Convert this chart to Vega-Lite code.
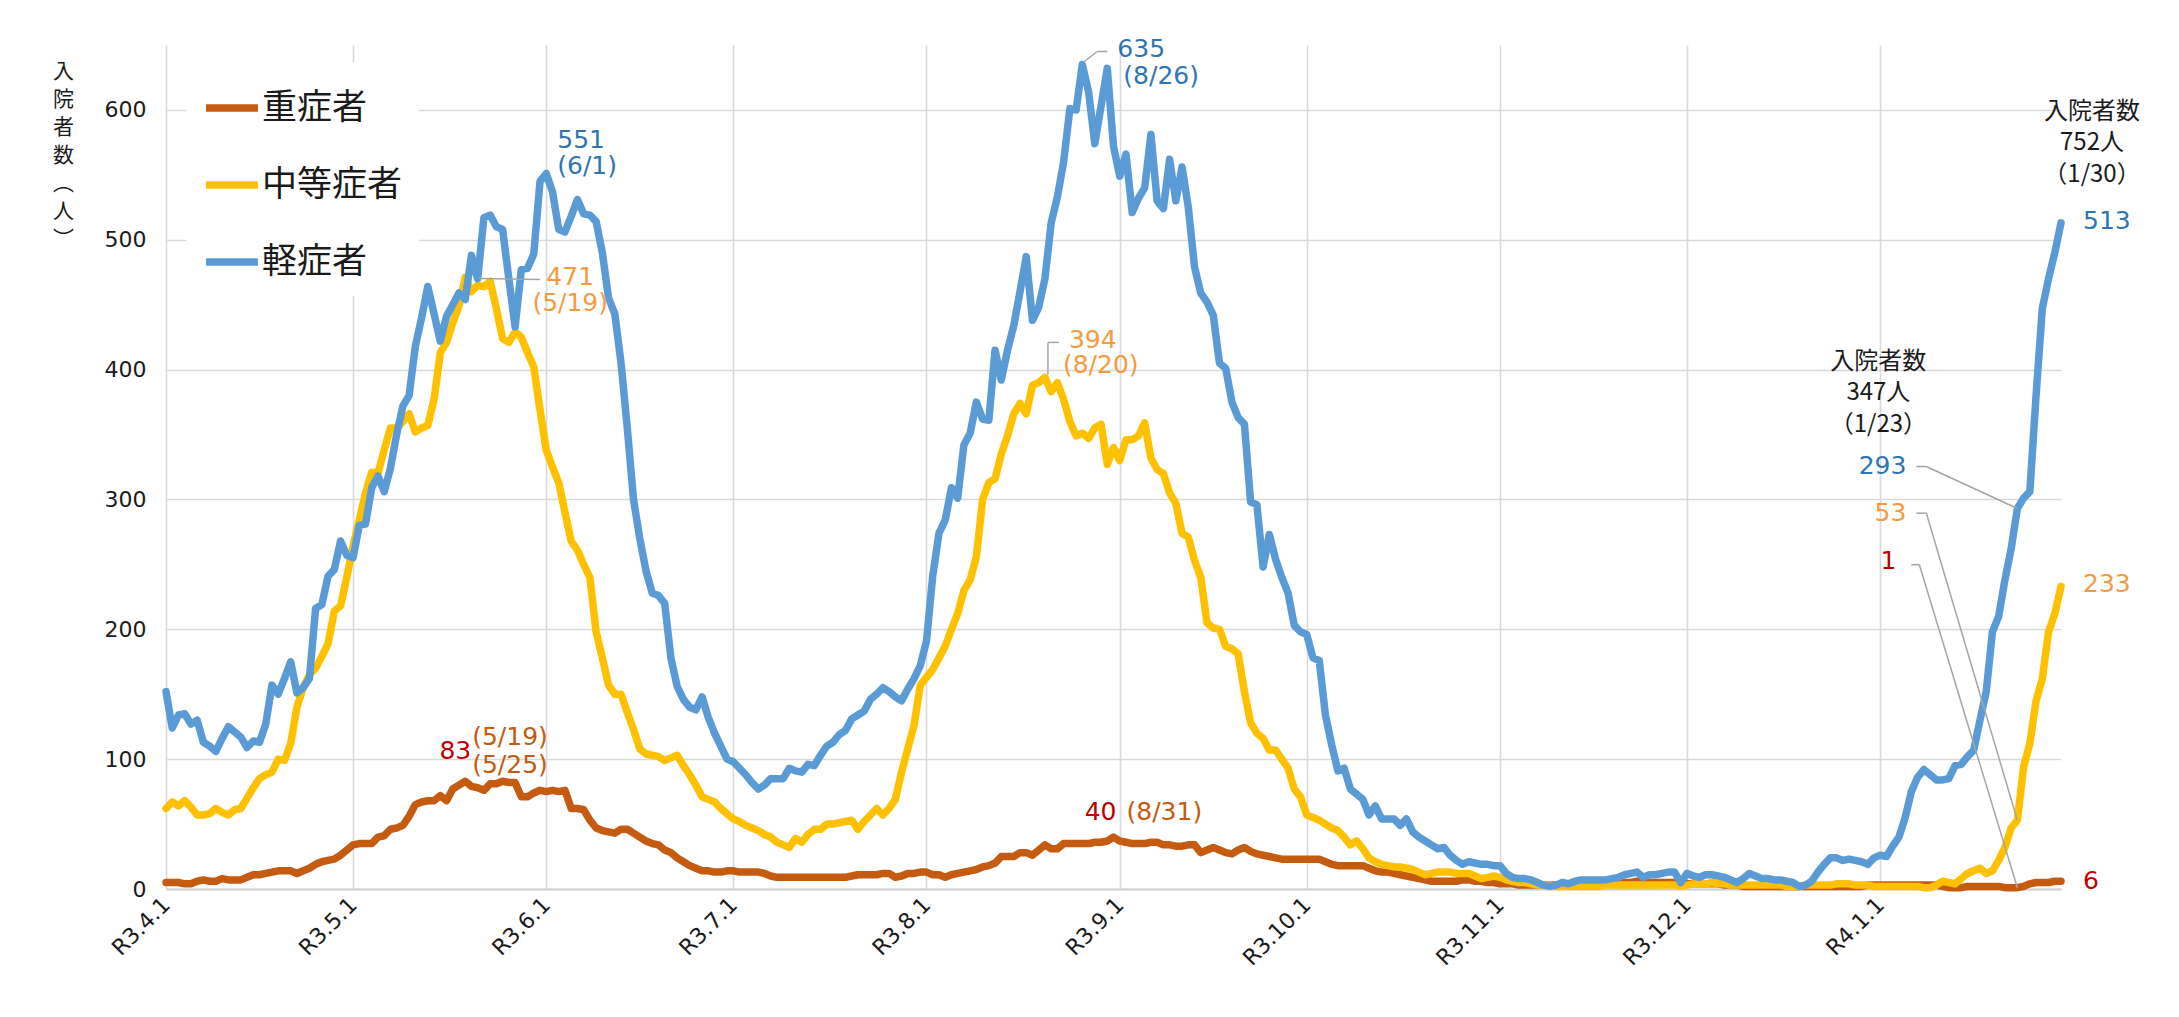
{
 "$schema": "https://vega.github.io/schema/vega-lite/v6.json",
 "autosize": {"type": "none"},
 "width": 1895,
 "height": 844,
 "padding": {"left": 166, "top": 45, "right": 118, "bottom": 128},
 "background": "white",
 "config": {
  "view": {"stroke": null},
  "font": "Noto Sans CJK JP",
  "text": {"font": "DejaVu Sans", "fontSize": 25, "baseline": "middle", "lineBreak": "\n"}
 },
 "datasets": {
  "series": [
   {"d":"2021-04-01","重症者":5,"中等症者":62,"軽症者":152},
   {"d":"2021-04-02","重症者":5,"中等症者":67,"軽症者":124},
   {"d":"2021-04-03","重症者":5,"中等症者":64,"軽症者":134},
   {"d":"2021-04-04","重症者":4,"中等症者":68,"軽症者":135},
   {"d":"2021-04-05","重症者":4,"中等症者":63,"軽症者":127},
   {"d":"2021-04-06","重症者":6,"中等症者":57,"軽症者":130},
   {"d":"2021-04-07","重症者":7,"中等症者":57,"軽症者":113},
   {"d":"2021-04-08","重症者":6,"中等症者":58,"軽症者":110},
   {"d":"2021-04-09","重症者":6,"中等症者":62,"軽症者":106},
   {"d":"2021-04-10","重症者":8,"中等症者":59,"軽症者":116},
   {"d":"2021-04-11","重症者":7,"中等症者":57,"軽症者":125},
   {"d":"2021-04-12","重症者":7,"中等症者":61,"軽症者":121},
   {"d":"2021-04-13","重症者":7,"中等症者":62,"軽症者":117},
   {"d":"2021-04-14","重症者":9,"中等症者":70,"軽症者":109},
   {"d":"2021-04-15","重症者":11,"中等症者":78,"軽症者":114},
   {"d":"2021-04-16","重症者":11,"中等症者":85,"軽症者":113},
   {"d":"2021-04-17","重症者":12,"中等症者":88,"軽症者":127},
   {"d":"2021-04-18","重症者":13,"中等症者":90,"軽症者":157},
   {"d":"2021-04-19","重症者":14,"中等症者":100,"軽症者":150},
   {"d":"2021-04-20","重症者":14,"中等症者":99,"軽症者":162},
   {"d":"2021-04-21","重症者":14,"中等症者":112,"軽症者":175},
   {"d":"2021-04-22","重症者":12,"中等症者":140,"軽症者":151},
   {"d":"2021-04-23","重症者":14,"中等症者":155,"軽症者":155},
   {"d":"2021-04-24","重症者":16,"中等症者":165,"軽症者":162},
   {"d":"2021-04-25","重症者":19,"中等症者":170,"軽症者":216},
   {"d":"2021-04-26","重症者":21,"中等症者":179,"軽症者":219},
   {"d":"2021-04-27","重症者":22,"中等症者":189,"軽症者":241},
   {"d":"2021-04-28","重症者":23,"中等症者":214,"軽症者":246},
   {"d":"2021-04-29","重症者":26,"中等症者":218,"軽症者":268},
   {"d":"2021-04-30","重症者":30,"中等症者":240,"軽症者":257},
   {"d":"2021-05-01","重症者":34,"中等症者":264,"軽症者":255},
   {"d":"2021-05-02","重症者":35,"中等症者":284,"軽症者":280},
   {"d":"2021-05-03","重症者":35,"中等症者":305,"軽症者":281},
   {"d":"2021-05-04","重症者":35,"中等症者":321,"軽症者":309},
   {"d":"2021-05-05","重症者":40,"中等症者":320,"軽症者":318},
   {"d":"2021-05-06","重症者":41,"中等症者":338,"軽症者":306},
   {"d":"2021-05-07","重症者":46,"中等症者":355,"軽症者":324},
   {"d":"2021-05-08","重症者":47,"中等症者":355,"軽症者":350},
   {"d":"2021-05-09","重症者":49,"中等症者":360,"軽症者":372},
   {"d":"2021-05-10","重症者":56,"中等症者":366,"軽症者":380},
   {"d":"2021-05-11","重症者":65,"中等症者":352,"軽症者":418},
   {"d":"2021-05-12","重症者":67,"中等症者":355,"軽症者":440},
   {"d":"2021-05-13","重症者":68,"中等症者":357,"軽症者":464},
   {"d":"2021-05-14","重症者":68,"中等症者":377,"軽症者":443},
   {"d":"2021-05-15","重症者":72,"中等症者":413,"軽症者":422},
   {"d":"2021-05-16","重症者":68,"中等症者":421,"軽症者":441},
   {"d":"2021-05-17","重症者":77,"中等症者":436,"軽症者":450},
   {"d":"2021-05-18","重症者":80,"中等症者":449,"軽症者":459},
   {"d":"2021-05-19","重症者":83,"中等症者":471,"軽症者":454},
   {"d":"2021-05-20","重症者":79,"中等症者":460,"軽症者":488},
   {"d":"2021-05-21","重症者":78,"中等症者":465,"軽症者":470},
   {"d":"2021-05-22","重症者":76,"中等症者":464,"軽症者":517},
   {"d":"2021-05-23","重症者":81,"中等症者":468,"軽症者":519},
   {"d":"2021-05-24","重症者":81,"中等症者":447,"軽症者":510},
   {"d":"2021-05-25","重症者":83,"中等症者":424,"軽症者":508},
   {"d":"2021-05-26","重症者":82,"中等症者":421,"軽症者":470},
   {"d":"2021-05-27","重症者":82,"中等症者":429,"軽症者":433},
   {"d":"2021-05-28","重症者":71,"中等症者":425,"軽症者":477},
   {"d":"2021-05-29","重症者":71,"中等症者":413,"軽症者":478},
   {"d":"2021-05-30","重症者":74,"中等症者":402,"軽症者":489},
   {"d":"2021-05-31","重症者":76,"中等症者":369,"軽症者":545},
   {"d":"2021-06-01","重症者":75,"中等症者":338,"軽症者":551},
   {"d":"2021-06-02","重症者":76,"中等症者":325,"軽症者":537},
   {"d":"2021-06-03","重症者":75,"中等症者":313,"軽症者":508},
   {"d":"2021-06-04","重症者":76,"中等症者":290,"軽症者":506},
   {"d":"2021-06-05","重症者":62,"中等症者":268,"軽症者":518},
   {"d":"2021-06-06","重症者":62,"中等症者":261,"軽症者":531},
   {"d":"2021-06-07","重症者":61,"中等症者":250,"軽症者":520},
   {"d":"2021-06-08","重症者":53,"中等症者":240,"軽症者":519},
   {"d":"2021-06-09","重症者":47,"中等症者":198,"軽症者":514},
   {"d":"2021-06-10","重症者":45,"中等症者":178,"軽症者":490},
   {"d":"2021-06-11","重症者":44,"中等症者":157,"軽症者":455},
   {"d":"2021-06-12","重症者":43,"中等症者":150,"軽症者":443},
   {"d":"2021-06-13","重症者":46,"中等症者":150,"軽症者":405},
   {"d":"2021-06-14","重症者":46,"中等症者":136,"軽症者":355},
   {"d":"2021-06-15","重症者":43,"中等症者":123,"軽症者":300},
   {"d":"2021-06-16","重症者":40,"中等症者":108,"軽症者":270},
   {"d":"2021-06-17","重症者":37,"中等症者":104,"軽症者":245},
   {"d":"2021-06-18","重症者":35,"中等症者":103,"軽症者":228},
   {"d":"2021-06-19","重症者":34,"中等症者":102,"軽症者":226},
   {"d":"2021-06-20","重症者":30,"中等症者":99,"軽症者":220},
   {"d":"2021-06-21","重症者":28,"中等症者":101,"軽症者":178},
   {"d":"2021-06-22","重症者":24,"中等症者":103,"軽症者":156},
   {"d":"2021-06-23","重症者":21,"中等症者":95,"軽症者":146},
   {"d":"2021-06-24","重症者":18,"中等症者":88,"軽症者":140},
   {"d":"2021-06-25","重症者":16,"中等症者":80,"軽症者":138},
   {"d":"2021-06-26","重症者":14,"中等症者":71,"軽症者":148},
   {"d":"2021-06-27","重症者":14,"中等症者":69,"軽症者":132},
   {"d":"2021-06-28","重症者":13,"中等症者":67,"軽症者":120},
   {"d":"2021-06-29","重症者":13,"中等症者":62,"軽症者":110},
   {"d":"2021-06-30","重症者":14,"中等症者":58,"軽症者":100},
   {"d":"2021-07-01","重症者":14,"中等症者":54,"軽症者":98},
   {"d":"2021-07-02","重症者":13,"中等症者":52,"軽症者":93},
   {"d":"2021-07-03","重症者":13,"中等症者":49,"軽症者":88},
   {"d":"2021-07-04","重症者":13,"中等症者":47,"軽症者":82},
   {"d":"2021-07-05","重症者":13,"中等症者":45,"軽症者":77},
   {"d":"2021-07-06","重症者":12,"中等症者":42,"軽症者":80},
   {"d":"2021-07-07","重症者":10,"中等症者":40,"軽症者":85},
   {"d":"2021-07-08","重症者":9,"中等症者":36,"軽症者":85},
   {"d":"2021-07-09","重症者":9,"中等症者":34,"軽症者":85},
   {"d":"2021-07-10","重症者":9,"中等症者":32,"軽症者":93},
   {"d":"2021-07-11","重症者":9,"中等症者":39,"軽症者":91},
   {"d":"2021-07-12","重症者":9,"中等症者":36,"軽症者":90},
   {"d":"2021-07-13","重症者":9,"中等症者":42,"軽症者":96},
   {"d":"2021-07-14","重症者":9,"中等症者":46,"軽症者":95},
   {"d":"2021-07-15","重症者":9,"中等症者":46,"軽症者":103},
   {"d":"2021-07-16","重症者":9,"中等症者":50,"軽症者":110},
   {"d":"2021-07-17","重症者":9,"中等症者":50,"軽症者":113},
   {"d":"2021-07-18","重症者":9,"中等症者":51,"軽症者":119},
   {"d":"2021-07-19","重症者":9,"中等症者":52,"軽症者":122},
   {"d":"2021-07-20","重症者":10,"中等症者":53,"軽症者":131},
   {"d":"2021-07-21","重症者":11,"中等症者":46,"軽症者":134},
   {"d":"2021-07-22","重症者":11,"中等症者":52,"軽症者":137},
   {"d":"2021-07-23","重症者":11,"中等症者":57,"軽症者":146},
   {"d":"2021-07-24","重症者":11,"中等症者":62,"軽症者":150},
   {"d":"2021-07-25","重症者":12,"中等症者":57,"軽症者":155},
   {"d":"2021-07-26","重症者":12,"中等症者":62,"軽症者":152},
   {"d":"2021-07-27","重症者":9,"中等症者":69,"軽症者":148},
   {"d":"2021-07-28","重症者":10,"中等症者":90,"軽症者":145},
   {"d":"2021-07-29","重症者":12,"中等症者":108,"軽症者":154},
   {"d":"2021-07-30","重症者":12,"中等症者":126,"軽症者":162},
   {"d":"2021-07-31","重症者":13,"中等症者":157,"軽症者":172},
   {"d":"2021-08-01","重症者":13,"中等症者":163,"軽症者":191},
   {"d":"2021-08-02","重症者":11,"中等症者":169,"軽症者":241},
   {"d":"2021-08-03","重症者":11,"中等症者":178,"軽症者":274},
   {"d":"2021-08-04","重症者":9,"中等症者":187,"軽症者":284},
   {"d":"2021-08-05","重症者":11,"中等症者":200,"軽症者":309},
   {"d":"2021-08-06","重症者":12,"中等症者":212,"軽症者":301},
   {"d":"2021-08-07","重症者":13,"中等症者":230,"軽症者":342},
   {"d":"2021-08-08","重症者":14,"中等症者":238,"軽症者":351},
   {"d":"2021-08-09","重症者":15,"中等症者":256,"軽症者":375},
   {"d":"2021-08-10","重症者":17,"中等症者":300,"軽症者":362},
   {"d":"2021-08-11","重症者":18,"中等症者":313,"軽症者":361},
   {"d":"2021-08-12","重症者":20,"中等症者":316,"軽症者":415},
   {"d":"2021-08-13","重症者":25,"中等症者":335,"軽症者":392},
   {"d":"2021-08-14","重症者":25,"中等症者":349,"軽症者":415},
   {"d":"2021-08-15","重症者":25,"中等症者":366,"軽症者":434},
   {"d":"2021-08-16","重症者":28,"中等症者":374,"軽症者":460},
   {"d":"2021-08-17","重症者":28,"中等症者":366,"軽症者":487},
   {"d":"2021-08-18","重症者":26,"中等症者":388,"軽症者":438},
   {"d":"2021-08-19","重症者":30,"中等症者":390,"軽症者":448},
   {"d":"2021-08-20","重症者":34,"中等症者":394,"軽症者":470},
   {"d":"2021-08-21","重症者":31,"中等症者":383,"軽症者":513},
   {"d":"2021-08-22","重症者":31,"中等症者":390,"軽症者":533},
   {"d":"2021-08-23","重症者":35,"中等症者":377,"軽症者":560},
   {"d":"2021-08-24","重症者":35,"中等症者":360,"軽症者":601},
   {"d":"2021-08-25","重症者":35,"中等症者":349,"軽症者":600},
   {"d":"2021-08-26","重症者":35,"中等症者":351,"軽症者":635},
   {"d":"2021-08-27","重症者":35,"中等症者":347,"軽症者":614},
   {"d":"2021-08-28","重症者":36,"中等症者":355,"軽症者":574},
   {"d":"2021-08-29","重症者":36,"中等症者":358,"軽症者":603},
   {"d":"2021-08-30","重症者":37,"中等症者":327,"軽症者":632},
   {"d":"2021-08-31","重症者":40,"中等症者":340,"軽症者":572},
   {"d":"2021-09-01","重症者":37,"中等症者":330,"軽症者":549},
   {"d":"2021-09-02","重症者":36,"中等症者":346,"軽症者":566},
   {"d":"2021-09-03","重症者":35,"中等症者":346,"軽症者":521},
   {"d":"2021-09-04","重症者":35,"中等症者":349,"軽症者":532},
   {"d":"2021-09-05","重症者":35,"中等症者":359,"軽症者":540},
   {"d":"2021-09-06","重症者":36,"中等症者":332,"軽症者":581},
   {"d":"2021-09-07","重症者":36,"中等症者":323,"軽症者":530},
   {"d":"2021-09-08","重症者":34,"中等症者":320,"軽症者":524},
   {"d":"2021-09-09","重症者":34,"中等症者":305,"軽症者":562},
   {"d":"2021-09-10","重症者":33,"中等症者":297,"軽症者":530},
   {"d":"2021-09-11","重症者":33,"中等症者":274,"軽症者":556},
   {"d":"2021-09-12","重症者":34,"中等症者":271,"軽症者":525},
   {"d":"2021-09-13","重症者":34,"中等症者":253,"軽症者":479},
   {"d":"2021-09-14","重症者":28,"中等症者":240,"軽症者":459},
   {"d":"2021-09-15","重症者":30,"中等症者":205,"軽症者":452},
   {"d":"2021-09-16","重症者":32,"中等症者":201,"軽症者":442},
   {"d":"2021-09-17","重症者":30,"中等症者":200,"軽症者":405},
   {"d":"2021-09-18","重症者":28,"中等症者":187,"軽症者":401},
   {"d":"2021-09-19","重症者":27,"中等症者":185,"軽症者":375},
   {"d":"2021-09-20","重症者":30,"中等症者":181,"軽症者":363},
   {"d":"2021-09-21","重症者":32,"中等症者":152,"軽症者":358},
   {"d":"2021-09-22","重症者":29,"中等症者":128,"軽症者":298},
   {"d":"2021-09-23","重症者":27,"中等症者":120,"軽症者":296},
   {"d":"2021-09-24","重症者":26,"中等症者":116,"軽症者":248},
   {"d":"2021-09-25","重症者":25,"中等症者":107,"軽症者":273},
   {"d":"2021-09-26","重症者":24,"中等症者":107,"軽症者":254},
   {"d":"2021-09-27","重症者":23,"中等症者":100,"軽症者":240},
   {"d":"2021-09-28","重症者":23,"中等症者":93,"軽症者":228},
   {"d":"2021-09-29","重症者":23,"中等症者":77,"軽症者":203},
   {"d":"2021-09-30","重症者":23,"中等症者":71,"軽症者":198},
   {"d":"2021-10-01","重症者":23,"中等症者":57,"軽症者":196},
   {"d":"2021-10-02","重症者":23,"中等症者":55,"軽症者":178},
   {"d":"2021-10-03","重症者":23,"中等症者":53,"軽症者":176},
   {"d":"2021-10-04","重症者":21,"中等症者":50,"軽症者":134},
   {"d":"2021-10-05","重症者":19,"中等症者":47,"軽症者":111},
   {"d":"2021-10-06","重症者":18,"中等症者":45,"軽症者":91},
   {"d":"2021-10-07","重症者":18,"中等症者":40,"軽症者":93},
   {"d":"2021-10-08","重症者":18,"中等症者":34,"軽症者":77},
   {"d":"2021-10-09","重症者":18,"中等症者":37,"軽症者":73},
   {"d":"2021-10-10","重症者":18,"中等症者":31,"軽症者":69},
   {"d":"2021-10-11","重症者":16,"中等症者":24,"軽症者":57},
   {"d":"2021-10-12","重症者":14,"中等症者":21,"軽症者":64},
   {"d":"2021-10-13","重症者":13,"中等症者":19,"軽症者":54},
   {"d":"2021-10-14","重症者":13,"中等症者":18,"軽症者":54},
   {"d":"2021-10-15","重症者":12,"中等症者":17,"軽症者":54},
   {"d":"2021-10-16","重症者":11,"中等症者":17,"軽症者":49},
   {"d":"2021-10-17","重症者":10,"中等症者":16,"軽症者":54},
   {"d":"2021-10-18","重症者":9,"中等症者":15,"軽症者":44},
   {"d":"2021-10-19","重症者":8,"中等症者":13,"軽症者":40},
   {"d":"2021-10-20","重症者":7,"中等症者":11,"軽症者":37},
   {"d":"2021-10-21","重症者":6,"中等症者":12,"軽症者":34},
   {"d":"2021-10-22","重症者":6,"中等症者":13,"軽症者":31},
   {"d":"2021-10-23","重症者":6,"中等症者":13,"軽症者":32},
   {"d":"2021-10-24","重症者":6,"中等症者":13,"軽症者":26},
   {"d":"2021-10-25","重症者":6,"中等症者":12,"軽症者":22},
   {"d":"2021-10-26","重症者":7,"中等症者":12,"軽症者":19},
   {"d":"2021-10-27","重症者":7,"中等症者":12,"軽症者":21},
   {"d":"2021-10-28","重症者":6,"中等症者":10,"軽症者":20},
   {"d":"2021-10-29","重症者":6,"中等症者":8,"軽症者":19},
   {"d":"2021-10-30","重症者":5,"中等症者":9,"軽症者":19},
   {"d":"2021-10-31","重症者":5,"中等症者":10,"軽症者":18},
   {"d":"2021-11-01","重症者":4,"中等症者":9,"軽症者":18},
   {"d":"2021-11-02","重症者":4,"中等症者":7,"軽症者":12},
   {"d":"2021-11-03","重症者":4,"中等症者":6,"軽症者":9},
   {"d":"2021-11-04","重症者":3,"中等症者":5,"軽症者":8},
   {"d":"2021-11-05","重症者":3,"中等症者":5,"軽症者":8},
   {"d":"2021-11-06","重症者":3,"中等症者":4,"軽症者":7},
   {"d":"2021-11-07","重症者":3,"中等症者":3,"軽症者":5},
   {"d":"2021-11-08","重症者":3,"中等症者":3,"軽症者":3},
   {"d":"2021-11-09","重症者":3,"中等症者":3,"軽症者":2},
   {"d":"2021-11-10","重症者":3,"中等症者":2,"軽症者":3},
   {"d":"2021-11-11","重症者":4,"中等症者":2,"軽症者":5},
   {"d":"2021-11-12","重症者":4,"中等症者":2,"軽症者":4},
   {"d":"2021-11-13","重症者":4,"中等症者":2,"軽症者":6},
   {"d":"2021-11-14","重症者":4,"中等症者":2,"軽症者":7},
   {"d":"2021-11-15","重症者":4,"中等症者":2,"軽症者":7},
   {"d":"2021-11-16","重症者":4,"中等症者":2,"軽症者":7},
   {"d":"2021-11-17","重症者":4,"中等症者":2,"軽症者":7},
   {"d":"2021-11-18","重症者":5,"中等症者":3,"軽症者":7},
   {"d":"2021-11-19","重症者":5,"中等症者":3,"軽症者":8},
   {"d":"2021-11-20","重症者":5,"中等症者":3,"軽症者":9},
   {"d":"2021-11-21","重症者":5,"中等症者":3,"軽症者":11},
   {"d":"2021-11-22","重症者":5,"中等症者":3,"軽症者":12},
   {"d":"2021-11-23","重症者":6,"中等症者":3,"軽症者":13},
   {"d":"2021-11-24","重症者":6,"中等症者":3,"軽症者":9},
   {"d":"2021-11-25","重症者":5,"中等症者":3,"軽症者":11},
   {"d":"2021-11-26","重症者":5,"中等症者":3,"軽症者":11},
   {"d":"2021-11-27","重症者":5,"中等症者":3,"軽症者":12},
   {"d":"2021-11-28","重症者":5,"中等症者":3,"軽症者":13},
   {"d":"2021-11-29","重症者":5,"中等症者":3,"軽症者":13},
   {"d":"2021-11-30","重症者":5,"中等症者":2,"軽症者":5},
   {"d":"2021-12-01","重症者":4,"中等症者":3,"軽症者":12},
   {"d":"2021-12-02","重症者":4,"中等症者":4,"軽症者":10},
   {"d":"2021-12-03","重症者":4,"中等症者":4,"軽症者":9},
   {"d":"2021-12-04","重症者":4,"中等症者":4,"軽症者":11},
   {"d":"2021-12-05","重症者":4,"中等症者":5,"軽症者":11},
   {"d":"2021-12-06","重症者":4,"中等症者":4,"軽症者":10},
   {"d":"2021-12-07","重症者":3,"中等症者":4,"軽症者":9},
   {"d":"2021-12-08","重症者":3,"中等症者":3,"軽症者":7},
   {"d":"2021-12-09","重症者":3,"中等症者":3,"軽症者":5},
   {"d":"2021-12-10","重症者":2,"中等症者":3,"軽症者":8},
   {"d":"2021-12-11","重症者":2,"中等症者":3,"軽症者":12},
   {"d":"2021-12-12","重症者":2,"中等症者":3,"軽症者":10},
   {"d":"2021-12-13","重症者":2,"中等症者":3,"軽症者":8},
   {"d":"2021-12-14","重症者":2,"中等症者":3,"軽症者":8},
   {"d":"2021-12-15","重症者":2,"中等症者":3,"軽症者":7},
   {"d":"2021-12-16","重症者":2,"中等症者":3,"軽症者":7},
   {"d":"2021-12-17","重症者":2,"中等症者":2,"軽症者":6},
   {"d":"2021-12-18","重症者":2,"中等症者":2,"軽症者":5},
   {"d":"2021-12-19","重症者":2,"中等症者":2,"軽症者":2},
   {"d":"2021-12-20","重症者":2,"中等症者":3,"軽症者":3},
   {"d":"2021-12-21","重症者":2,"中等症者":3,"軽症者":6},
   {"d":"2021-12-22","重症者":2,"中等症者":3,"軽症者":13},
   {"d":"2021-12-23","重症者":2,"中等症者":3,"軽症者":19},
   {"d":"2021-12-24","重症者":2,"中等症者":3,"軽症者":24},
   {"d":"2021-12-25","重症者":2,"中等症者":4,"軽症者":24},
   {"d":"2021-12-26","重症者":2,"中等症者":4,"軽症者":22},
   {"d":"2021-12-27","重症者":2,"中等症者":4,"軽症者":23},
   {"d":"2021-12-28","重症者":2,"中等症者":3,"軽症者":22},
   {"d":"2021-12-29","重症者":2,"中等症者":3,"軽症者":21},
   {"d":"2021-12-30","重症者":3,"中等症者":3,"軽症者":19},
   {"d":"2021-12-31","重症者":3,"中等症者":2,"軽症者":24},
   {"d":"2022-01-01","重症者":3,"中等症者":2,"軽症者":26},
   {"d":"2022-01-02","重症者":3,"中等症者":2,"軽症者":25},
   {"d":"2022-01-03","重症者":3,"中等症者":2,"軽症者":33},
   {"d":"2022-01-04","重症者":3,"中等症者":2,"軽症者":40},
   {"d":"2022-01-05","重症者":3,"中等症者":2,"軽症者":55},
   {"d":"2022-01-06","重症者":3,"中等症者":2,"軽症者":75},
   {"d":"2022-01-07","重症者":3,"中等症者":2,"軽症者":86},
   {"d":"2022-01-08","重症者":3,"中等症者":1,"軽症者":92},
   {"d":"2022-01-09","重症者":3,"中等症者":1,"軽症者":88},
   {"d":"2022-01-10","重症者":3,"中等症者":3,"軽症者":84},
   {"d":"2022-01-11","重症者":2,"中等症者":6,"軽症者":84},
   {"d":"2022-01-12","重症者":1,"中等症者":5,"軽症者":85},
   {"d":"2022-01-13","重症者":1,"中等症者":4,"軽症者":95},
   {"d":"2022-01-14","重症者":1,"中等症者":8,"軽症者":96},
   {"d":"2022-01-15","重症者":2,"中等症者":12,"軽症者":102},
   {"d":"2022-01-16","重症者":2,"中等症者":14,"軽症者":107},
   {"d":"2022-01-17","重症者":2,"中等症者":16,"軽症者":130},
   {"d":"2022-01-18","重症者":2,"中等症者":12,"軽症者":152},
   {"d":"2022-01-19","重症者":2,"中等症者":14,"軽症者":198},
   {"d":"2022-01-20","重症者":2,"中等症者":22,"軽症者":210},
   {"d":"2022-01-21","重症者":1,"中等症者":32,"軽症者":238},
   {"d":"2022-01-22","重症者":1,"中等症者":47,"軽症者":262},
   {"d":"2022-01-23","重症者":1,"中等症者":53,"軽症者":293},
   {"d":"2022-01-24","重症者":2,"中等症者":94,"軽症者":301},
   {"d":"2022-01-25","重症者":4,"中等症者":112,"軽症者":306},
   {"d":"2022-01-26","重症者":5,"中等症者":145,"軽症者":380},
   {"d":"2022-01-27","重症者":5,"中等症者":162,"軽症者":447},
   {"d":"2022-01-28","重症者":5,"中等症者":198,"軽症者":470},
   {"d":"2022-01-29","重症者":6,"中等症者":212,"軽症者":490},
   {"d":"2022-01-30","重症者":6,"中等症者":233,"軽症者":513}
  ]
 },
 "encoding": {
  "x": {
   "field": "d", "type": "temporal",
   "scale": {"type": "utc", "domain": [{"year": 2021, "month": 4, "date": 1, "utc": true}, {"year": 2022, "month": 1, "date": 30, "utc": true}]},
   "axis": {
    "title": null,
    "values": [
     {"year": 2021, "month": 4, "date": 1, "utc": true},
     {"year": 2021, "month": 5, "date": 1, "utc": true},
     {"year": 2021, "month": 6, "date": 1, "utc": true},
     {"year": 2021, "month": 7, "date": 1, "utc": true},
     {"year": 2021, "month": 8, "date": 1, "utc": true},
     {"year": 2021, "month": 9, "date": 1, "utc": true},
     {"year": 2021, "month": 10, "date": 1, "utc": true},
     {"year": 2021, "month": 11, "date": 1, "utc": true},
     {"year": 2021, "month": 12, "date": 1, "utc": true},
     {"year": 2022, "month": 1, "date": 1, "utc": true}
    ],
    "labelExpr": "'R' + (utcyear(datum.value) - 2018) + '.' + (utcmonth(datum.value) + 1) + '.1'",
    "labelAngle": -45, "labelAlign": "right", "labelBaseline": "middle",
    "labelPadding": 12, "labelFont": "DejaVu Sans", "labelFontSize": 22, "labelColor": "#1a1a1a",
    "labelOverlap": false, "labelFlush": false, "labelBound": false,
    "grid": true, "gridColor": "#D9D9D9", "gridWidth": 1.6,
    "ticks": false, "domain": true, "domainColor": "#CFCFCF", "domainWidth": 2
   }
  },
  "y": {
   "field": "v", "type": "quantitative",
   "scale": {"domain": [0, 650], "nice": false, "zero": true},
   "axis": {
    "values": [0, 100, 200, 300, 400, 500, 600],
    "title": ["入", "院", "者", "数", "︵", "人", "︶"],
    "titleAngle": 0, "titleAlign": "center", "titleBaseline": "top",
    "titleX": -103, "titleY": 15, "titleLineHeight": 28,
    "titleFontSize": 21, "titleFontWeight": "normal", "titleColor": "#1a1a1a",
    "grid": true, "gridColor": "#D9D9D9", "gridWidth": 1.6,
    "ticks": false, "domain": false,
    "labelPadding": 20, "labelFont": "DejaVu Sans", "labelFontSize": 22, "labelColor": "#1a1a1a"
   }
  }
 },
 "layer": [
  {
   "data": {"name": "series"},
   "transform": [{"fold": ["重症者", "中等症者", "軽症者"], "as": ["k", "v"]}, {"filter": "datum.k === '重症者'"}],
   "mark": {"type": "line", "strokeWidth": 7.5, "strokeJoin": "round", "strokeCap": "round"},
   "encoding": {
    "color": {
     "field": "k", "type": "nominal",
     "scale": {"domain": ["重症者", "中等症者", "軽症者"], "range": ["#C55A11", "#FFC000", "#5B9BD5"]},
     "legend": {"title": null, "orient": "none", "legendX": 20, "legendY": 17, "fillColor": "white", "padding": 16,
      "symbolType": "stroke", "symbolSize": 2700, "symbolStrokeWidth": 7.5, "labelFontSize": 35, "labelColor": "#1a1a1a",
      "labelOffset": 0, "rowPadding": 29, "labelLimit": 400}
    }
   }
  },
  {
   "data": {"name": "series"},
   "transform": [{"fold": ["重症者", "中等症者", "軽症者"], "as": ["k", "v"]}, {"filter": "datum.k === '中等症者'"}],
   "mark": {"type": "line", "strokeWidth": 7.5, "strokeJoin": "round", "strokeCap": "round"},
   "encoding": {
    "color": {
     "field": "k", "type": "nominal",
     "scale": {"domain": ["重症者", "中等症者", "軽症者"], "range": ["#C55A11", "#FFC000", "#5B9BD5"]},
     "legend": {"title": null, "orient": "none", "legendX": 20, "legendY": 17, "fillColor": "white", "padding": 16,
      "symbolType": "stroke", "symbolSize": 2700, "symbolStrokeWidth": 7.5, "labelFontSize": 35, "labelColor": "#1a1a1a",
      "labelOffset": 0, "rowPadding": 29, "labelLimit": 400}
    }
   }
  },
  {
   "data": {"name": "series"},
   "transform": [{"fold": ["重症者", "中等症者", "軽症者"], "as": ["k", "v"]}, {"filter": "datum.k === '軽症者'"}],
   "mark": {"type": "line", "strokeWidth": 7.5, "strokeJoin": "round", "strokeCap": "round"},
   "encoding": {
    "color": {
     "field": "k", "type": "nominal",
     "scale": {"domain": ["重症者", "中等症者", "軽症者"], "range": ["#C55A11", "#FFC000", "#5B9BD5"]},
     "legend": {"title": null, "orient": "none", "legendX": 20, "legendY": 17, "fillColor": "white", "padding": 16,
      "symbolType": "stroke", "symbolSize": 2700, "symbolStrokeWidth": 7.5, "labelFontSize": 35, "labelColor": "#1a1a1a",
      "labelOffset": 0, "rowPadding": 29, "labelLimit": 400}
    }
   }
  },
  {"data": {"values": [{"d": "2021-05-19", "v": 471}]}, "mark": {"type": "rule", "color": "#A5A5A5", "strokeWidth": 1.5, "xOffset": 14, "yOffset": 1, "x2Offset": 75, "y2Offset": 2}, "encoding": {"x2": {"field": "d"}, "y2": {"field": "v"}}},
  {"data": {"values": [{"d": "2021-08-26", "v": 635}]}, "mark": {"type": "rule", "color": "#A5A5A5", "strokeWidth": 1.5, "xOffset": 2, "yOffset": -3, "x2Offset": 15, "y2Offset": -13}, "encoding": {"x2": {"field": "d"}, "y2": {"field": "v"}}},
  {"data": {"values": [{"d": "2021-08-26", "v": 635}]}, "mark": {"type": "rule", "color": "#A5A5A5", "strokeWidth": 1.5, "xOffset": 15, "yOffset": -13, "x2Offset": 25, "y2Offset": -13}, "encoding": {"x2": {"field": "d"}, "y2": {"field": "v"}}},
  {"data": {"values": [{"d": "2021-08-20", "v": 394}]}, "mark": {"type": "rule", "color": "#A5A5A5", "strokeWidth": 1.5, "xOffset": 3, "yOffset": -3, "x2Offset": 3, "y2Offset": -35}, "encoding": {"x2": {"field": "d"}, "y2": {"field": "v"}}},
  {"data": {"values": [{"d": "2021-08-20", "v": 394}]}, "mark": {"type": "rule", "color": "#A5A5A5", "strokeWidth": 1.5, "xOffset": 3, "yOffset": -35, "x2Offset": 14, "y2Offset": -35}, "encoding": {"x2": {"field": "d"}, "y2": {"field": "v"}}},
  {"data": {"values": [{"d": "2022-01-23", "v": 293}]}, "mark": {"type": "rule", "color": "#A5A5A5", "strokeWidth": 1.5, "xOffset": -101, "yOffset": -42, "x2Offset": -91, "y2Offset": -42}, "encoding": {"x2": {"field": "d"}, "y2": {"field": "v"}}},
  {"data": {"values": [{"d": "2022-01-23", "v": 293}]}, "mark": {"type": "rule", "color": "#A5A5A5", "strokeWidth": 1.5, "xOffset": -91, "yOffset": -42, "x2Offset": 0, "y2Offset": 0}, "encoding": {"x2": {"field": "d"}, "y2": {"field": "v"}}},
  {"data": {"values": [{"d": "2022-01-23", "v": 53}]}, "mark": {"type": "rule", "color": "#A5A5A5", "strokeWidth": 1.5, "xOffset": -101, "yOffset": -307, "x2Offset": -91, "y2Offset": -307}, "encoding": {"x2": {"field": "d"}, "y2": {"field": "v"}}},
  {"data": {"values": [{"d": "2022-01-23", "v": 53}]}, "mark": {"type": "rule", "color": "#A5A5A5", "strokeWidth": 1.5, "xOffset": -91, "yOffset": -307, "x2Offset": 0, "y2Offset": 0}, "encoding": {"x2": {"field": "d"}, "y2": {"field": "v"}}},
  {"data": {"values": [{"d": "2022-01-23", "v": 1}]}, "mark": {"type": "rule", "color": "#A5A5A5", "strokeWidth": 1.5, "xOffset": -106, "yOffset": -323, "x2Offset": -98, "y2Offset": -323}, "encoding": {"x2": {"field": "d"}, "y2": {"field": "v"}}},
  {"data": {"values": [{"d": "2022-01-23", "v": 1}]}, "mark": {"type": "rule", "color": "#A5A5A5", "strokeWidth": 1.5, "xOffset": -98, "yOffset": -323, "x2Offset": 0, "y2Offset": 0}, "encoding": {"x2": {"field": "d"}, "y2": {"field": "v"}}},
  {"data": {"values": [{"d": "2021-06-01", "v": 551, "t": "551\n(6/1)"}]}, "mark": {"type": "text", "align": "left", "dx": 11, "dy": -34, "lineHeight": 26, "color": "#2E75B6"}, "encoding": {"text": {"field": "t"}}},
  {"data": {"values": [{"d": "2021-05-19", "v": 471, "t": "471\n(5/19)"}]}, "mark": {"type": "text", "align": "center", "dx": 105, "dy": 0, "lineHeight": 26, "color": "#F79A3E"}, "encoding": {"text": {"field": "t"}}},
  {"data": {"values": [{"d": "2021-08-26", "v": 635, "t": "635"}]}, "mark": {"type": "text", "align": "left", "dx": 35, "dy": -15, "color": "#2E75B6"}, "encoding": {"text": {"field": "t"}}},
  {"data": {"values": [{"d": "2021-08-26", "v": 635, "t": "(8/26)"}]}, "mark": {"type": "text", "align": "left", "dx": 41, "dy": 12, "color": "#2E75B6"}, "encoding": {"text": {"field": "t"}}},
  {"data": {"values": [{"d": "2021-08-20", "v": 394, "t": "394"}]}, "mark": {"type": "text", "align": "left", "dx": 24, "dy": -37, "color": "#F79A3E"}, "encoding": {"text": {"field": "t"}}},
  {"data": {"values": [{"d": "2021-08-20", "v": 394, "t": "(8/20)"}]}, "mark": {"type": "text", "align": "left", "dx": 18, "dy": -12, "color": "#F79A3E"}, "encoding": {"text": {"field": "t"}}},
  {"data": {"values": [{"d": "2021-05-19", "v": 83, "t": "83"}]}, "mark": {"type": "text", "align": "right", "dx": 6, "dy": -30, "color": "#C00000"}, "encoding": {"text": {"field": "t"}}},
  {"data": {"values": [{"d": "2021-05-19", "v": 83, "t": "(5/19)\n(5/25)"}]}, "mark": {"type": "text", "align": "left", "dx": 7, "dy": -44, "lineHeight": 28, "color": "#C55A11"}, "encoding": {"text": {"field": "t"}}},
  {"data": {"values": [{"d": "2021-08-31", "v": 40, "t": "40"}]}, "mark": {"type": "text", "align": "right", "dx": 3, "dy": -25, "color": "#C00000"}, "encoding": {"text": {"field": "t"}}},
  {"data": {"values": [{"d": "2021-08-31", "v": 40, "t": "(8/31)"}]}, "mark": {"type": "text", "align": "left", "dx": 13, "dy": -25, "color": "#C55A11"}, "encoding": {"text": {"field": "t"}}},
  {"data": {"values": [{"d": "2022-01-30", "v": 513, "t": "513"}]}, "mark": {"type": "text", "align": "left", "dx": 22, "dy": -2, "color": "#2E75B6"}, "encoding": {"text": {"field": "t"}}},
  {"data": {"values": [{"d": "2022-01-30", "v": 233, "t": "233"}]}, "mark": {"type": "text", "align": "left", "dx": 22, "dy": -2, "color": "#F79A3E"}, "encoding": {"text": {"field": "t"}}},
  {"data": {"values": [{"d": "2022-01-30", "v": 6, "t": "6"}]}, "mark": {"type": "text", "align": "left", "dx": 22, "dy": 0, "color": "#C00000"}, "encoding": {"text": {"field": "t"}}},
  {"data": {"values": [{"d": "2022-01-30", "v": 513, "t": "入院者数\n752人\n（1/30）"}]}, "mark": {"type": "text", "font": "Noto Sans CJK JP", "fontSize": 24, "align": "center", "dx": 31, "dy": -111, "lineHeight": 31.5, "color": "#1a1a1a"}, "encoding": {"text": {"field": "t"}}},
  {"data": {"values": [{"d": "2022-01-23", "v": 293, "t": "入院者数\n347人\n（1/23）"}]}, "mark": {"type": "text", "font": "Noto Sans CJK JP", "fontSize": 24, "align": "center", "dx": -139, "dy": -147, "lineHeight": 31.5, "color": "#1a1a1a"}, "encoding": {"text": {"field": "t"}}},
  {"data": {"values": [{"d": "2022-01-23", "v": 293, "t": "293"}]}, "mark": {"type": "text", "align": "right", "dx": -111, "dy": -43, "color": "#2E75B6"}, "encoding": {"text": {"field": "t"}}},
  {"data": {"values": [{"d": "2022-01-23", "v": 53, "t": "53"}]}, "mark": {"type": "text", "align": "right", "dx": -111, "dy": -307, "color": "#F79A3E"}, "encoding": {"text": {"field": "t"}}},
  {"data": {"values": [{"d": "2022-01-23", "v": 1, "t": "1"}]}, "mark": {"type": "text", "align": "right", "dx": -121, "dy": -327, "color": "#C00000"}, "encoding": {"text": {"field": "t"}}}
 ]
}
